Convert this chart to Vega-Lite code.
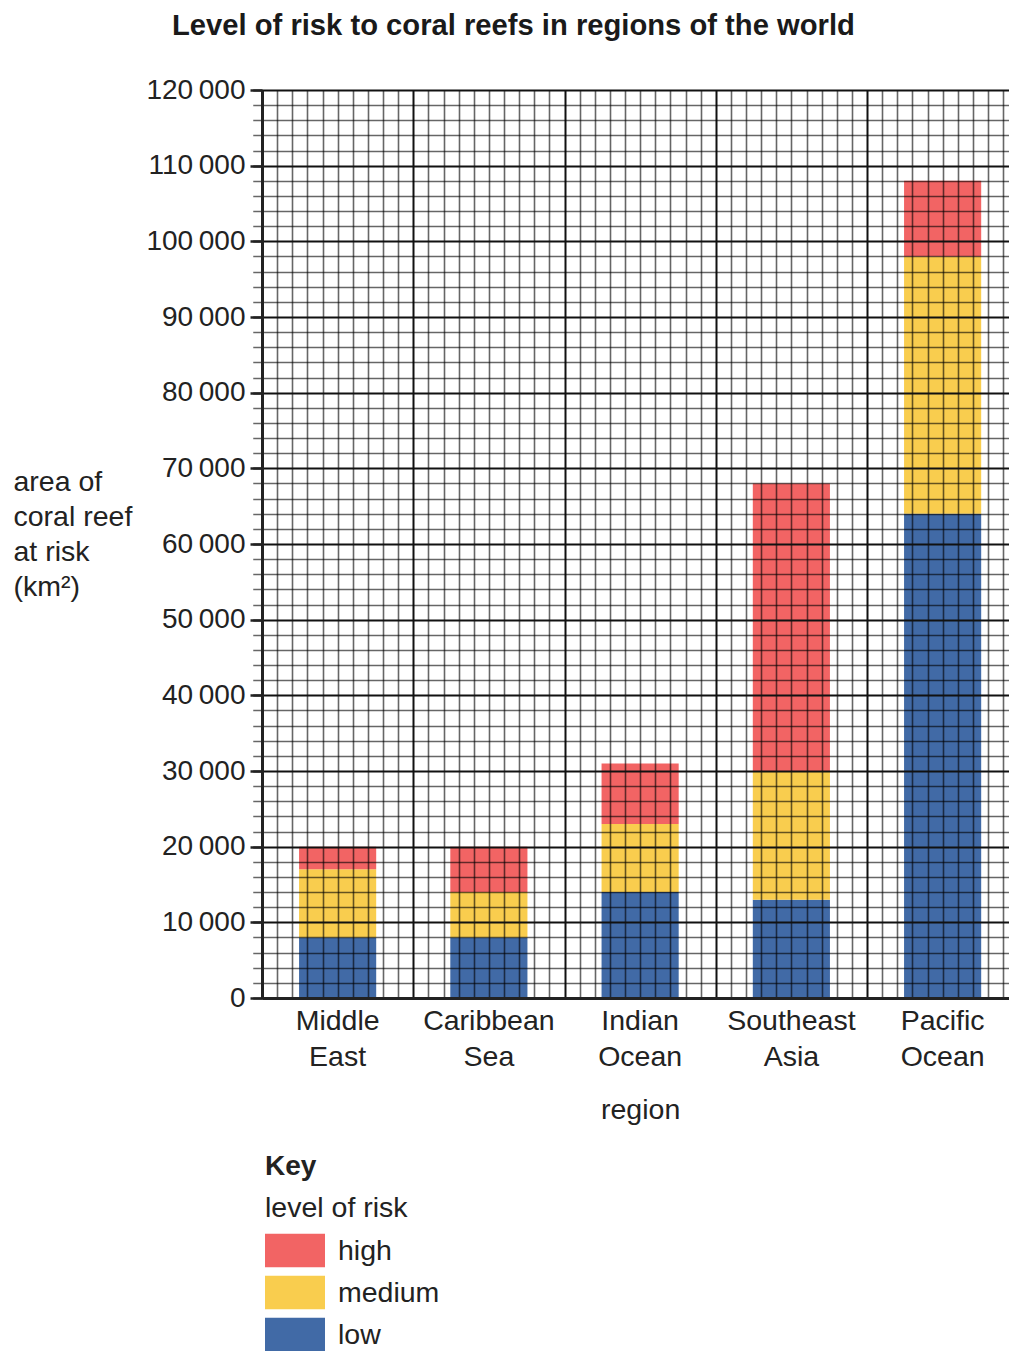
{
  "$schema": "https://vega.github.io/schema/vega-lite/v6.json",
  "autosize": {"type": "none"},
  "width": 747,
  "height": 908,
  "padding": {"left": 262, "top": 90, "right": 0, "bottom": 353},
  "background": "white",
  "config": {
    "font": "Liberation Sans",
    "view": {"stroke": null}
  },
  "title": {
    "text": "Level of risk to coral reefs in regions of the world",
    "anchor": "start",
    "frame": "group",
    "dx": -90,
    "fontSize": 29.2,
    "fontWeight": "bold",
    "color": "#1a1a1a",
    "offset": 35
  },
  "data": {
    "values": [
      {"region": "Middle East", "risk": "low", "area": 8000},
      {"region": "Middle East", "risk": "medium", "area": 9000},
      {"region": "Middle East", "risk": "high", "area": 3000},
      {"region": "Caribbean Sea", "risk": "low", "area": 8000},
      {"region": "Caribbean Sea", "risk": "medium", "area": 6000},
      {"region": "Caribbean Sea", "risk": "high", "area": 6000},
      {"region": "Indian Ocean", "risk": "low", "area": 14000},
      {"region": "Indian Ocean", "risk": "medium", "area": 9000},
      {"region": "Indian Ocean", "risk": "high", "area": 8000},
      {"region": "Southeast Asia", "risk": "low", "area": 13000},
      {"region": "Southeast Asia", "risk": "medium", "area": 17000},
      {"region": "Southeast Asia", "risk": "high", "area": 38000},
      {"region": "Pacific Ocean", "risk": "low", "area": 64000},
      {"region": "Pacific Ocean", "risk": "medium", "area": 34000},
      {"region": "Pacific Ocean", "risk": "high", "area": 10000}
    ]
  },
  "layer": [
    {
      "transform": [{"calculate": "indexof(['low','medium','high'], datum.risk)", "as": "stackorder"}],
      "mark": {"type": "bar"},
      "encoding": {
        "x": {
          "field": "region",
          "type": "nominal",
          "sort": ["Middle East", "Caribbean Sea", "Indian Ocean", "Southeast Asia", "Pacific Ocean"],
          "scale": {"range": [0, 756.25], "paddingInner": 0.49, "paddingOuter": 0.245},
          "axis": {
            "title": "region",
            "titleFontSize": 28.5,
            "titleFontWeight": "normal",
            "titleColor": "#222",
            "titleY": 120,
            "titleBaseline": "alphabetic",
            "labelExpr": "split(datum.label, ' ')",
            "labelFontSize": 28.5,
            "labelLineHeight": 36,
            "labelPadding": 8,
            "labelAngle": 0,
            "labelColor": "#222",
            "ticks": false,
            "grid": false,
            "domainColor": "#222",
            "domainWidth": 3,
            "zindex": 2
          }
        },
        "y": {
          "field": "area",
          "type": "quantitative",
          "stack": "zero",
          "scale": {"domain": [0, 120000], "nice": false},
          "axis": {
            "title": ["area of", "coral reef", "at risk", "(km²)"],
            "titleAngle": 0,
            "titleAlign": "left",
            "titleBaseline": "alphabetic",
            "titleX": -249,
            "titleY": 400,
            "titleFontSize": 28.5,
            "titleFontWeight": "normal",
            "titleLineHeight": 35,
            "titleColor": "#222",
            "values": [0, 10000, 20000, 30000, 40000, 50000, 60000, 70000, 80000, 90000, 100000, 110000, 120000],
            "labelExpr": "replace(format(datum.value, ','), regexp(',', 'g'), '\u2009')",
            "labelFontSize": 28,
            "labelPadding": 5,
            "labelColor": "#222",
            "tickSize": 12,
            "tickWidth": 2.5,
            "tickColor": "#222",
            "domainColor": "#222",
            "domainWidth": 3,
            "grid": false,
            "zindex": 2
          }
        },
        "color": {
          "field": "risk",
          "type": "nominal",
          "scale": {"domain": ["high", "medium", "low"], "range": ["#F26464", "#F9CD4E", "#416AA6"]},
          "legend": {
            "title": "level of risk",
            "orient": "none",
            "legendX": 3,
            "legendY": 1104,
            "padding": 0,
            "titleFontSize": 28.5,
            "titleFontWeight": "normal",
            "titleColor": "#222",
            "titlePadding": 11,
            "symbolType": "M-1,-0.5667H1V0.5667H-1Z",
            "symbolSize": 3600,
            "symbolStrokeWidth": 0,
            "labelFontSize": 28.5,
            "labelColor": "#222",
            "labelOffset": 13,
            "clipHeight": 34,
            "rowPadding": 8
          }
        },
        "order": {"field": "stackorder", "type": "quantitative"}
      }
    },
    {
      "data": {"values": [{"g": 0}]},
      "mark": {"type": "point", "opacity": 0},
      "encoding": {
        "x": {
          "field": "g",
          "type": "quantitative",
          "scale": {"domain": [0, 50], "range": [0, 756.25], "nice": false, "zero": false},
          "axis": {
            "orient": "top",
            "title": null,
            "tickCount": 50,
            "labels": false,
            "ticks": false,
            "domain": false,
            "grid": true,
            "gridColor": {"condition": {"test": "datum.value % 10 === 0", "value": "#111"}, "value": "#000"},
            "gridOpacity": {"condition": {"test": "datum.value % 10 === 0", "value": 1}, "value": 0.6},
            "gridWidth": {"condition": {"test": "datum.value % 10 === 0", "value": 2}, "value": 1.6},
            "zindex": 1
          }
        },
        "y": {
          "field": "g",
          "type": "quantitative",
          "scale": {"domain": [0, 120000], "nice": false},
          "axis": {
            "orient": "right",
            "title": null,
            "tickCount": 60,
            "labels": false,
            "ticks": false,
            "domain": false,
            "grid": true,
            "gridColor": {"condition": {"test": "datum.value % 10000 === 0", "value": "#111"}, "value": "#000"},
            "gridOpacity": {"condition": {"test": "datum.value % 10000 === 0", "value": 1}, "value": 0.6},
            "gridWidth": {"condition": {"test": "datum.value % 10000 === 0", "value": 2}, "value": 1.6},
            "zindex": 1
          }
        },
        "shape": {
          "datum": "Key",
          "legend": {
            "title": "Key",
            "orient": "none",
            "legendX": 3,
            "legendY": 1063,
            "padding": 0,
            "titleFontSize": 28,
            "titleFontWeight": "bold",
            "titleColor": "#222",
            "symbolOpacity": 0,
            "symbolSize": 4,
            "labelOpacity": 0,
            "labelFontSize": 4
          }
        }
      }
    }
  ],
  "resolve": {"scale": {"x": "independent", "y": "independent"}}
}
